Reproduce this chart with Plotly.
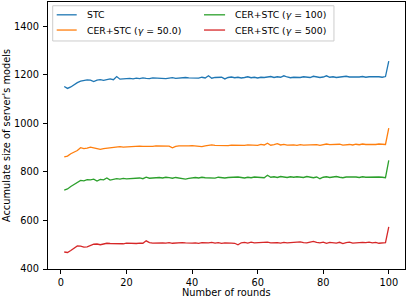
import plotly.graph_objects as go

rounds = list(range(1, 101))

stc = [1152, 1144, 1150, 1160, 1168, 1174, 1178, 1179, 1178, 1172,
       1178, 1180, 1177, 1181, 1183, 1180, 1193, 1182, 1184, 1183,
       1185, 1183, 1186, 1184, 1187, 1185, 1184, 1187, 1186, 1185,
       1187, 1184, 1186, 1188, 1185, 1187, 1186, 1189, 1187, 1186,
       1188, 1186, 1190, 1187, 1196, 1186, 1189, 1188, 1190, 1183,
       1189, 1191, 1188, 1190, 1187, 1189, 1192, 1188, 1190, 1187,
       1190, 1189, 1191, 1193, 1189, 1192, 1190, 1196, 1191, 1188,
       1190, 1188, 1189, 1192, 1190, 1189, 1194, 1190, 1189, 1191,
       1196, 1190, 1192, 1189, 1191, 1190, 1194, 1191, 1190, 1192,
       1191, 1193, 1190, 1192, 1193, 1191, 1192, 1190, 1193, 1256]

cer_50 = [862, 865, 875, 880, 888, 900, 896, 898, 902, 899,
          897, 893, 896, 898, 900, 902, 901, 904, 902, 903,
          905, 903, 904, 906, 905, 904, 906, 905, 907, 906,
          905, 907, 906, 899, 905, 907, 906, 905, 907, 908,
          906, 905, 904, 907, 909, 911, 909, 908, 910, 907,
          908, 910, 909, 908, 910, 909, 911, 910, 912, 909,
          913, 911, 918, 910, 912, 916, 911, 913, 910, 912,
          911, 909, 912, 910, 911, 913, 914, 912, 909, 912,
          915, 912, 913, 911, 914, 910, 912, 913, 911, 914,
          912, 915, 913, 912, 914, 913, 915, 914, 913, 980]

cer_100 = [725, 730, 740, 748, 756, 765, 763, 768, 767, 770,
           762, 769, 767, 775, 766, 768, 772, 770, 773, 771,
           772, 770, 773, 775, 772, 778, 774, 776, 775, 777,
           775, 778, 776, 774, 777, 775, 772, 770, 773, 775,
           777, 775, 778, 776, 775, 777, 774, 778, 776, 775,
           777, 778, 776, 779, 777, 775, 778, 776, 779, 777,
           778, 776, 786, 778, 780, 777, 781, 779, 777, 780,
           778, 780, 779, 777, 781, 778, 776, 779, 772, 778,
           780, 777, 779, 781, 778, 776, 779, 780, 778, 779,
           777, 780, 778, 779, 780, 778, 779, 778, 776, 848]

cer_500 = [470, 468, 476, 486, 495, 494, 490, 491, 496, 502,
           503, 500, 503, 506, 505, 504, 506, 505, 504, 507,
           506, 508, 505, 507, 506, 516, 509, 507, 508, 506,
           508, 507, 509, 506, 508, 507, 509, 508, 506, 507,
           508, 506, 509, 507, 508, 510, 507, 509, 506, 508,
           509, 507, 506, 500, 508, 510, 507, 511, 508, 509,
           507, 509, 511, 508, 510, 509, 507, 510, 508, 509,
           511, 510, 512, 509, 508, 511, 514, 510, 508, 511,
           506, 510, 509, 507, 510, 505, 509, 511, 507, 509,
           508, 510, 509, 511, 508, 510, 506, 508, 509, 574]

series_names = ["STC", "CER+STC (<i>γ</i> = 50.0)", "CER+STC (<i>γ</i> = 100)", "CER+STC (<i>γ</i> = 500)"]
series_values = [stc, cer_50, cer_100, cer_500]
colors = ["#1f77b4", "#ff7f0e", "#2ca02c", "#d62728"]

x_ticks = [0, 20, 40, 60, 80, 100]
y_ticks = [400, 600, 800, 1000, 1200, 1400]
x_title = "Number of rounds"
y_title = "Accumulate size of server's models"

font = "DejaVu Sans, sans-serif"
fig = go.Figure()
for name, vals, col in zip(series_names, series_values, colors):
    fig.add_trace(go.Scatter(x=rounds, y=vals, mode="lines", name=name,
                             line=dict(color=col, width=1.3), showlegend=False))

# Two-column legend (column-major, like the reference), in paper coordinates
leg_col_x = [(0.0244, 0.0804, 0.1036), (0.437, 0.496, 0.518)]  # line x0, line x1, text x
leg_row_y = [0.952, 0.895]
leg_slots = [(0, 0), (0, 1), (1, 0), (1, 1)]  # (col, row) for each series

fig.add_shape(type="rect", xref="paper", yref="paper", x0=0.0132, x1=0.801, y0=0.854, y1=0.986,
              fillcolor="rgba(255,255,255,0.8)", line=dict(color="#cccccc", width=1), layer="above")
for name, col, (c, r) in zip(series_names, colors, leg_slots):
    lx0, lx1, tx = leg_col_x[c]
    yy = leg_row_y[r]
    fig.add_shape(type="line", xref="paper", yref="paper", x0=lx0, x1=lx1, y0=yy, y1=yy,
                  line=dict(color=col, width=1.3), layer="above")
    fig.add_annotation(xref="paper", yref="paper", x=tx, y=yy, text=name, showarrow=False,
                       xanchor="left", yanchor="middle", font=dict(family=font, size=9.3, color="black"))

# x-axis title placed below the tick labels
fig.add_annotation(xref="paper", yref="paper", x=0.5, y=-0.089, text=x_title, showarrow=False,
                   xanchor="center", yanchor="middle", font=dict(family=font, size=9.8, color="black"))

axis_common = dict(showline=True, linecolor="black", linewidth=1, mirror=True,
                   ticks="outside", ticklen=4, tickwidth=1, tickcolor="black",
                   showgrid=False, zeroline=False,
                   tickfont=dict(family=font, size=9.8, color="black"))

fig.update_layout(
    width=407, height=298,
    margin=dict(l=48, r=2, t=2, b=29, autoexpand=False),
    paper_bgcolor="white", plot_bgcolor="white",
    font=dict(family=font, size=9.8, color="black"),
    showlegend=False,
    xaxis=dict(range=[-3.95, 104.95], tickvals=x_ticks, **axis_common),
    yaxis=dict(range=[400, 1500], tickvals=y_ticks, ticklabelstandoff=2,
               title=dict(text=y_title, font=dict(family=font, size=9.8), standoff=1),
               **axis_common),
)

fig.write_html("out.html", config={"displayModeBar": False},
               post_script="document.body.style.margin='0';document.body.style.overflow='hidden';")
